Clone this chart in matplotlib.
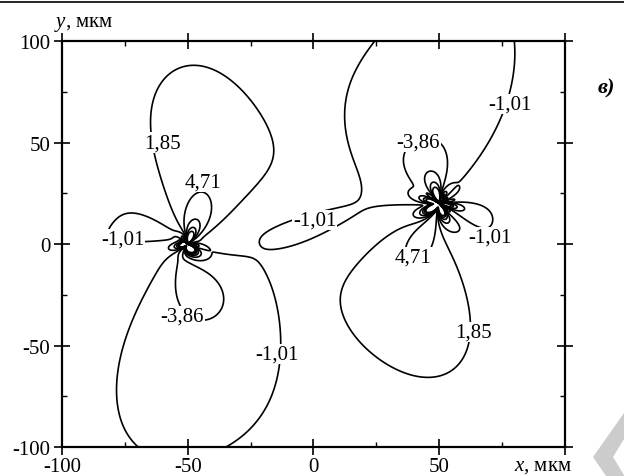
import numpy as np
import matplotlib
matplotlib.use("Agg")
import matplotlib.pyplot as plt
from matplotlib.patches import Polygon

plt.rcParams['font.family'] = ['Liberation Serif', 'DejaVu Serif']
plt.rcParams['mathtext.fontset'] = 'custom'
plt.rcParams['mathtext.it'] = 'Liberation Serif:italic'
plt.rcParams['mathtext.rm'] = 'Liberation Serif'
plt.rcParams['axes.unicode_minus'] = False

# two sources (centres, мкм)
src_x = [-50.0, 50.0]
src_y = [0.0, 20.0]

levels = [-3.86, -1.01, 1.85, 4.71]
inner_levels = [-12.43, -9.58, -6.72, 7.57, 10.43, 13.29]

iso_185 = [(-47.9, 86.7), (-37, 85), (-26.4, 79.8), (-16, 60), (-14, 46.8), (-21.3, 30.4),
           (-34.5, 14), (-55.7, 15.6), (-61, 32), (-65, 41.9), (-65.7, 66.5), (-61, 79.6),
           (-54.4, 85.4),
           (38.4, 9), (30.4, 9), (21.2, -4.1), (10.5, -23.8), (11.8, -37), (14.5, -50),
           (27.8, -64.9), (44.3, -69.5), (58.2, -64.9), (63.5, -53.4), (63.5, -43.5),
           (63.4, -33.5), (57, -7.4), (51.5, -4)]
iso_471 = [(-45.6, 24.6), (-51.5, 12.3), (-40.1, 18.9), (38.4, 2.5), (48.3, 2.5),
           (41.5, -7.5)]
iso_m386 = [(-54.3, -27), (-54.4, -12.3), (-45, -12.3), (-37.2, -18.9), (-34.4, -22),
            (-38, -33.5), (-42, -37), (33.1, 43.5), (38.4, 32), (52.3, 46.8), (53, 35.3)]
iso_m101 = [(-80.2, 12.3), (-75.6, 16.4), (-66.3, 13.9), (-57, 7.4), (-62.3, 1.6), (-81, 7),
            (-39.8, -2.5), (-26.4, -5.7), (-18.5, -15.6), (-14.5, -33.5), (-14.6, -54.2),
            (-21, -80), (-31, -99.5), (-57, -5.9), (-69, -30.5), (-74.3, -45.2), (-78, -61.6),
            (-79.7, -99.5),
            (19.5, 99.5), (14.5, 76), (14.5, 51.7), (19.2, 25.5), (11.8, 19.7), (0.5, 12),
            (-10.6, 8.2), (-18.6, 4.9), (-25, 1.5), (-16, 0.8), (-5.4, 0.5), (7.9, 7.4),
            (21.2, 12.3), (34, 18.7), (57, 30.5), (69, 51.7), (74, 63), (78.1, 69),
            (79.5, 79.8), (81.5, 99.5),
            (72.8, 11.5), (57, 10.7), (70.2, 3.3)]

# rough values inside the closed regions and in the open field
inside_xy = [(-45, 55), (-40, 75), (-55, 35), (-30, 40), (-46, 15),
             (-45, -55), (-50, -85), (-30, -25), (-65, -30), (-46, -25), (-72, 8),
             (40, -40), (30, -20), (50, -55), (20, -35), (43, -2),
             (50, 70), (45, 95), (70, 90), (60, 45), (30, 60), (25, 35), (43, 40),
             (-5, 4.5), (10, 12), (66, 10), (32, 24)]
inside_val = [3.0, 2.4, 2.6, 2.5, 6.5,
              -2.2, -1.8, -2.0, -1.8, -5.0, -1.3,
              3.0, 3.2, 2.5, 2.4, 6.5,
              -2.2, -1.8, -1.6, -2.6, -1.8, -1.8, -5.0,
              -1.2, -1.3, -1.3, -1.6]
field_xy = [(-90, 90), (-90, 50), (-85, 25), (-92, -15), (-75, -15), (-92, -60), (-90, -92),
            (0, -30), (0, -60), (-10, -95), (15, -85), (40, -90), (85, -85), (90, -40),
            (90, 0), (90, 30), (92, 70), (92, 95), (0, 40), (0, 70), (-10, 95), (5, 95),
            (-5, 25), (-35, -5), (10, -10), (75, -15),
            (68, 20), (67, 26), (64, 32), (58.8, 2), (32, 11.2), (95, 20), (96, 40), (96, 5),
            (-32.3, 3.1), (-68, 25), (-66.9, -6.2), (2, -12)]
field_val = -0.2

powers = [0.3, 0.8, 1.5]
n_harm = 6


def columns(px, py):
    yield np.ones_like(px), 0
    yield px / 100.0, 1
    yield py / 100.0, 1
    for xs, ys in zip(src_x, src_y):
        dx = px - xs
        dy = py - ys
        r = np.maximum(np.hypot(dx, dy), 0.8)
        th = np.arctan2(dy, dx)
        for m in powers:
            rm = (r / 50.0) ** (-m)
            yield rm, 0
            for n in range(1, n_harm + 1):
                yield rm * np.cos(n * th), n
                yield rm * np.sin(n * th), n


pts, vals, wts = [], [], []
for lv, iso in zip(levels, [iso_m386, iso_m101, iso_185, iso_471]):
    pts += iso
    vals += [lv] * len(iso)
    wts += [1.0] * len(iso)
pts += inside_xy
vals += inside_val
wts += [0.4] * len(inside_xy)
pts += field_xy
vals += [field_val] * len(field_xy)
wts += [0.4] * len(field_xy)

px = np.array([p[0] for p in pts], float)
py = np.array([p[1] for p in pts], float)
cols = list(columns(px, py))
A = np.stack([c for c, _ in cols], axis=1)
order = np.array([n for _, n in cols], float)
w = np.sqrt(np.array(wts))
lam = 3e-3 * (1 + order) ** 2
M = (A * w[:, None]).T @ (A * w[:, None]) + np.diag(lam)
coef = np.linalg.solve(M, (A * w[:, None]).T @ (np.array(vals) * w))

x = np.linspace(-100, 100, 1001)
y = np.linspace(-100, 100, 1001)
X, Y = np.meshgrid(x, y)
F = np.zeros_like(X)
for (c, _), a in zip(columns(X, Y), coef):
    F += a * c

fig = plt.figure(figsize=(6.24, 4.77), dpi=100)
ax = fig.add_axes([0.0994, 0.0608, 0.806, 0.851])

ax.contour(X, Y, F, levels=sorted(levels + inner_levels), colors='black',
           linewidths=1.2, linestyles='solid')

label_pos = {
    1.85: [(-60, 50), (63.5, -43.5)],
    4.71: [(-44, 30.5), (39.6, -6.4)],
    -1.01: [(-75.7, 2.5), (-14.6, -54.2), (0.5, 12.0), (78.1, 69.0), (70.2, 3.3)],
    -3.86: [(-52.2, -35.3), (41.7, 50.2)],
}
for lv, spots in label_pos.items():
    for lx, ly in spots:
        ax.text(lx, ly, f"{lv:.2f}".replace('.', ','), fontsize=15, ha='center',
                va='center', zorder=5,
                bbox=dict(facecolor='white', edgecolor='none', pad=0.5))

ax.set_xlim(-100, 100)
ax.set_ylim(-100, 100)
ax.set_xticks([-100, -50, 0, 50, 100])
ax.set_xticklabels(['-100', '-50', '0', '50', ''])
ax.set_yticks([-100, -50, 0, 50, 100])
ax.set_xticks([-75, -25, 25, 75], minor=True)
ax.set_yticks([-75, -25, 25, 75], minor=True)
ax.tick_params(which='major', direction='inout', length=12, width=1.2, labelsize=15,
               top=True, right=True)
ax.tick_params(axis='x', which='major', pad=1.5)
ax.tick_params(axis='y', which='major', pad=2.5)
ax.tick_params(which='minor', direction='in', length=3.5, width=1.0, top=True, right=True)
for sp in ax.spines.values():
    sp.set_linewidth(1.6)

fig.text(0.087, 0.948, '$y$, мкм', fontsize=15, ha='left', va='center')
fig.text(0.824, 0.023, '$x$, мкм', fontsize=15, ha='left', va='center')
fig.text(0.957, 0.815, 'в)', fontsize=16, fontweight='bold', style='italic',
         ha='left', va='center')

# page rule and watermark
fig.add_artist(plt.Line2D([0, 1], [0.993, 0.993], color='black', linewidth=1.2,
                          transform=fig.transFigure))
wm = Polygon([(593 / 624, 1 - 458 / 477), (1.0, 1 - 414 / 477), (1.0, 1 - 440 / 477),
              (613 / 624, 1 - 458 / 477), (1.0, 1 - 476 / 477), (1.0, 0.0),
              (606 / 624, 0.0)], closed=True, transform=fig.transFigure,
             facecolor='#cccccc', edgecolor='none')
fig.add_artist(wm)

fig.savefig('out.png', dpi=100)
